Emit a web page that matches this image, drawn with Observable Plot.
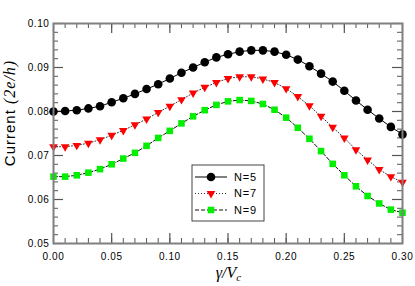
<!DOCTYPE html>
<html>
<head>
<meta charset="utf-8">
<script src="https://cdn.jsdelivr.net/npm/d3@7"></script>
<script src="https://cdn.jsdelivr.net/npm/@observablehq/plot@0.6"></script>
<style>
  html, body { margin: 0; padding: 0; background: #fff; }
  #chart { position: relative; width: 415px; height: 286px; }
</style>
</head>
<body>
<div id="chart"></div>
<script>
const gammaV = [0.00,0.01,0.02,0.03,0.04,0.05,0.06,0.07,0.08,0.09,0.10,0.11,0.12,0.13,0.14,0.15,0.16,0.17,0.18,0.19,0.20,0.21,0.22,0.23,0.24,0.25,0.26,0.27,0.28,0.29,0.30];
const currentN5 = [0.0800,0.0801,0.0803,0.0807,0.0812,0.0821,0.0830,0.0840,0.0851,0.0862,0.0875,0.0888,0.0900,0.0912,0.0923,0.0930,0.0936,0.0939,0.0939,0.0936,0.0929,0.0918,0.0903,0.0886,0.0868,0.0847,0.0825,0.0804,0.0784,0.0765,0.0748];
const currentN7 = [0.0720,0.0720,0.0723,0.0728,0.0736,0.0746,0.0757,0.0770,0.0783,0.0798,0.0812,0.0827,0.0842,0.0855,0.0866,0.0875,0.0879,0.0879,0.0874,0.0866,0.0852,0.0834,0.0813,0.0789,0.0764,0.0740,0.0713,0.0690,0.0668,0.0652,0.0639];
const currentN9 = [0.0652,0.0652,0.0655,0.0661,0.0669,0.0680,0.0693,0.0706,0.0722,0.0740,0.0756,0.0773,0.0789,0.0803,0.0815,0.0823,0.0826,0.0824,0.0817,0.0804,0.0786,0.0763,0.0738,0.0710,0.0681,0.0655,0.0630,0.0608,0.0591,0.0577,0.0570];

const seriesNames = ["N=5", "N=7", "N=9"];
const seriesValues = [currentN5, currentN7, currentN9];

const xMajorTicks = [0.00, 0.05, 0.10, 0.15, 0.20, 0.25, 0.30];
const xMinorTicks = [0.00,0.01,0.02,0.03,0.04,0.05,0.06,0.07,0.08,0.09,0.10,0.11,0.12,0.13,0.14,0.15,0.16,0.17,0.18,0.19,0.20,0.21,0.22,0.23,0.24,0.25,0.26,0.27,0.28,0.29,0.30];
const yMajorTicks = [0.05, 0.06, 0.07, 0.08, 0.09, 0.10];
const yMinorTicks = [0.05,0.052,0.054,0.056,0.058,0.06,0.062,0.064,0.066,0.068,0.07,0.072,0.074,0.076,0.078,0.08,0.082,0.084,0.086,0.088,0.09,0.092,0.094,0.096,0.098,0.10];

// styles per series
const styles = {
  "N=5": {stroke: "#000", dash: null, symbol: "circle", fill: "#000", r: 4.3, rotate: 0},
  "N=7": {stroke: "#333", dash: "1,2", symbol: "triangle", fill: "#ff0000", r: 3.2, rotate: 180},
  "N=9": {stroke: "#111", dash: "4,2", symbol: "square", fill: "#00f000", r: 3.7, rotate: 0}
};

const data = seriesNames.flatMap((name, i) =>
  gammaV.map((g, j) => ({series: name, x: g, y: seriesValues[i][j]}))
);

const W = 415, H = 286;
const mt = 23, mr = 13, mb = 43, ml = 53;
const pw = W - ml - mr, ph = H - mt - mb;
const tickColor = "#555";

const marks = [];
// inward tick marks
marks.push(Plot.tickX(xMinorTicks, {x: d => d, insetTop: ph - 5, stroke: tickColor, strokeWidth: 1}));
marks.push(Plot.tickX(xMinorTicks, {x: d => d, insetBottom: ph - 5, stroke: tickColor, strokeWidth: 1}));
marks.push(Plot.tickX(xMajorTicks, {x: d => d, insetTop: ph - 10, stroke: tickColor, strokeWidth: 1.2}));
marks.push(Plot.tickX(xMajorTicks, {x: d => d, insetBottom: ph - 10, stroke: tickColor, strokeWidth: 1.2}));
marks.push(Plot.tickY(yMinorTicks, {y: d => d, insetRight: pw - 5, stroke: tickColor, strokeWidth: 1}));
marks.push(Plot.tickY(yMinorTicks, {y: d => d, insetLeft: pw - 5, stroke: tickColor, strokeWidth: 1}));
marks.push(Plot.tickY(yMajorTicks, {y: d => d, insetRight: pw - 10, stroke: tickColor, strokeWidth: 1.2}));
marks.push(Plot.tickY(yMajorTicks, {y: d => d, insetLeft: pw - 10, stroke: tickColor, strokeWidth: 1.2}));
// axis labels
marks.push(Plot.axisX({ticks: xMajorTicks, tickSize: 0, tickPadding: 9, tickFormat: d3.format(".2f"), label: null, fill: "#000"}));
marks.push(Plot.axisY({ticks: yMajorTicks, tickSize: 0, tickPadding: 4, tickFormat: d3.format(".2f"), label: null, fill: "#000"}));

for (const name of seriesNames) {
  const s = styles[name];
  const d = data.filter(v => v.series === name);
  marks.push(Plot.line(d, {x: "x", y: "y", stroke: s.stroke, strokeWidth: 1, strokeDasharray: s.dash}));
}
for (const name of seriesNames) {
  const s = styles[name];
  const d = data.filter(v => v.series === name);
  marks.push(Plot.dot(d, {x: "x", y: "y", symbol: s.symbol, r: s.r, fill: s.fill, stroke: "none", rotate: s.rotate}));
}
marks.push(Plot.frame({stroke: "#808080", strokeWidth: 2}));

const svg = Plot.plot({
  width: W,
  height: H,
  marginTop: mt,
  marginRight: mr,
  marginBottom: mb,
  marginLeft: ml,
  style: {fontFamily: "'Liberation Sans', Arial, sans-serif", fontSize: "10px", letterSpacing: "0.6px", background: "#fff", overflow: "visible"},
  x: {domain: [0, 0.30], axis: null},
  y: {domain: [0.05, 0.10], axis: null},
  marks
});

const sel = d3.select(svg);

// Y axis label
const yl = sel.append("text")
  .attr("transform", `translate(15,${mt + ph / 2 - 20}) rotate(-90)`)
  .attr("text-anchor", "middle")
  .attr("fill", "#000");
yl.append("tspan").text("Current ")
  .style("font-family", "'Liberation Sans', Arial, sans-serif")
  .style("font-size", "15px").style("letter-spacing", "1px");
yl.append("tspan").text("(2e/h)")
  .style("font-family", "'Liberation Serif', 'Times New Roman', serif")
  .style("font-style", "italic").style("font-size", "16px").style("letter-spacing", "1px");

// X axis label
const xl = sel.append("text")
  .attr("transform", `translate(${ml + pw / 2 + 1},278)`)
  .attr("text-anchor", "middle")
  .attr("fill", "#000")
  .style("font-family", "'Liberation Serif', 'Times New Roman', serif")
  .style("font-style", "italic").style("letter-spacing", "0px");
xl.append("tspan").text("γ/V").style("font-size", "16px");
xl.append("tspan").text("c").style("font-size", "11px").attr("dy", 3);

// Legend (inside plot area)
const lg = sel.append("g").attr("transform", "translate(192,165)");
lg.append("rect").attr("width", 72).attr("height", 56)
  .attr("fill", "#fff").attr("stroke", "#444").attr("stroke-width", 1);
seriesNames.forEach((name, i) => {
  const s = styles[name];
  const cy = 12 + i * 16.5;
  lg.append("line").attr("x1", 3).attr("x2", 35).attr("y1", cy).attr("y2", cy)
    .attr("stroke", s.stroke).attr("stroke-width", 1)
    .attr("stroke-dasharray", s.dash);
  const sym = {circle: d3.symbolCircle, triangle: d3.symbolTriangle, square: d3.symbolSquare}[s.symbol];
  lg.append("path").attr("d", d3.symbol(sym, Math.PI * s.r * s.r)())
    .attr("transform", `translate(19,${cy}) rotate(${s.rotate})`)
    .attr("fill", s.fill);
  lg.append("text").attr("x", 42).attr("y", cy).attr("dy", "0.36em")
    .attr("text-anchor", "start")
    .style("text-anchor", "start")
    .style("font-family", "'Liberation Sans', Arial, sans-serif")
    .style("font-size", "11px").style("letter-spacing", "0.8px")
    .attr("fill", "#000").text(name);
});

document.getElementById("chart").appendChild(svg);
</script>
</body>
</html>
